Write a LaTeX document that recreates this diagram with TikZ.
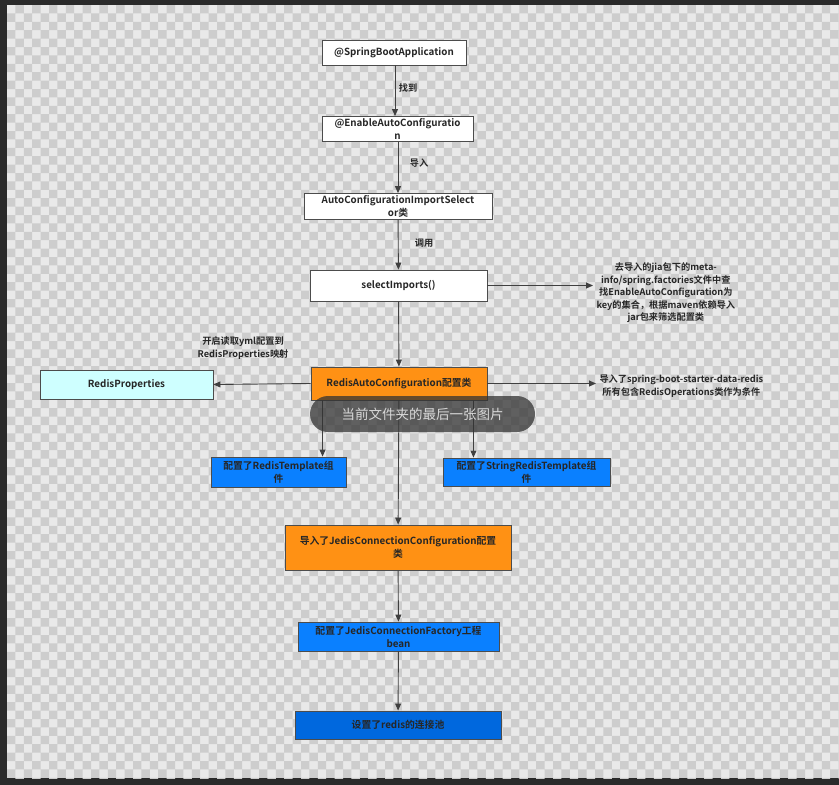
\documentclass[tikz,border=0pt]{standalone}
\usepackage{fontspec}
\setmainfont{Noto Sans CJK SC}[BoldFont={Noto Sans CJK SC Bold}]
\usepackage{xcolor}
\usetikzlibrary{arrows.meta,calc,positioning}
\definecolor{frame}{RGB}{42,42,42}
\definecolor{chklight}{RGB}{233,233,233}
\definecolor{chkdark}{RGB}{205,205,205}
\definecolor{boxorange}{RGB}{255,145,20}
\definecolor{boxblue}{RGB}{10,128,255}
\definecolor{pooblue}{RGB}{0,104,222}
\definecolor{boxcyan}{RGB}{206,255,255}

\begin{document}
\begin{tikzpicture}[x=1pt,y=-1pt,
 box/.style={draw=black!70,line width=.9pt,inner sep=2pt,align=center,
   text=black!85,font=\bfseries\fontsize{9.8}{13}\selectfont},
 whitebox/.style={box,fill=white},
 orangebox/.style={box,fill=boxorange},
 bluebox/.style={box,fill=boxblue},
 tag/.style={align=center,text=black!85,font=\bfseries\fontsize{9.2}{12.5}\selectfont},
 link/.style={-{Triangle[length=7pt,width=6pt]},draw=black!75,line width=.9pt},
 toast/.style={fill=black!80,fill opacity=.75,text opacity=1,rounded corners=18pt,
   text=white!85!black,font=\fontsize{13.5}{16}\selectfont}
]
\useasboundingbox (0,0) rectangle (839,785);
\fill[frame] (0,0) rectangle (839,785);
\fill[chklight] (7,5) rectangle (839,778);
\begin{scope}
\clip (7,5) rectangle (839,778);
\fill[chkdark] \foreach \j in {0,...,92} {
  \foreach \k in {0,...,49} {
   ({7+(2*\k+1-mod(\j,2))*8.4},{5+\j*8.4}) rectangle ++(8.4,8.4) } };
\end{scope}

\node[whitebox,minimum width=144pt,minimum height=25pt] (boot) at (394,52.5)
 {@SpringBootApplication};
\node[whitebox,minimum width=151pt,minimum height=24pt] (enable) at (397.5,129)
 {@EnableAutoConfiguratio\\n};
\node[whitebox,minimum width=188pt,minimum height=25pt] (selector) at (398,206.5)
 {AutoConfigurationImportSelect\\or类};
\node[whitebox,minimum width=177pt,minimum height=31pt] (selimp) at (398.5,285.5)
 {selectImports()};
\node[box,fill=boxcyan,minimum width=173pt,minimum height=29pt] (props) at (126.5,384.5)
 {RedisProperties};
\node[orangebox,minimum width=176pt,minimum height=33pt] (redisauto) at (399,383.5)
 {RedisAutoConfiguration配置类};
\node[bluebox,minimum width=135pt,minimum height=30pt] (rtpl) at (278.5,472)
 {配置了RedisTemplate组\\件};
\node[bluebox,minimum width=167pt,minimum height=28pt] (srtpl) at (526.5,472)
 {配置了StringRedisTemplate组\\件};
\node[orangebox,minimum width=226pt,minimum height=45pt] (jedisconf) at (398,547.5)
 {导入了JedisConnectionConfiguration配置\\类};
\node[bluebox,minimum width=201pt,minimum height=29pt] (factory) at (398.5,636.5)
 {配置了JedisConnectionFactory工程\\bean};
\node[box,fill=pooblue,minimum width=206pt,minimum height=28pt] (pool) at (398,725)
 {设置了redis的连接池};

\node[tag] (findtag) at (408,88) {找到};
\node[tag] (importtag) at (419,163) {导入};
\node[tag] (calltag) at (424,243) {调用};
\node[tag,anchor=west] (factnote) at (593,293)
 {去导入的jia包下的meta-\\info/spring.factories文件中查\\找EnableAutoConfiguration为\\key的集合，根据maven依赖导入\\jar包来筛选配置类};
\node[tag] (ymlnote) at (243,348) {开启读取yml配置到\\RedisProperties映射};
\node[tag,anchor=west] (condnote) at (596,386)
 {导入了spring-boot-starter-data-redis\\所有包含RedisOperations类作为条件};

\coordinate (rtpltop) at ([xshift=12pt]redisauto.south west);
\coordinate (srtpltop) at ([xshift=-14pt]redisauto.south east);

\draw[link] (boot.south -| 395,0) -- (enable.north -| 395,0);
\draw[link] (enable.south -| 398,0) -- (selector.north -| 398,0);
\draw[link] (selector) -- (selimp);
\draw[link] (selimp) -- (redisauto);
\draw[link] (selimp.east) -- (selimp.east -| factnote.west);
\draw[link] (redisauto.west) -- (props.east);
\draw[link] (redisauto.east) -- (redisauto.east -| condnote.west);
\draw[link] (rtpltop) -- (rtpltop |- rtpl.north);
\draw[link] (srtpltop) -- (srtpltop |- srtpl.north);
\draw[link] (redisauto) -- (jedisconf);
\draw[link] (jedisconf) -- (factory);
\draw[link] (factory) -- (pool);

\node[toast,minimum width=225pt,minimum height=36pt] (viewer) at (422.5,414)
 {当前文件夹的最后一张图片};
\end{tikzpicture}
\end{document}
